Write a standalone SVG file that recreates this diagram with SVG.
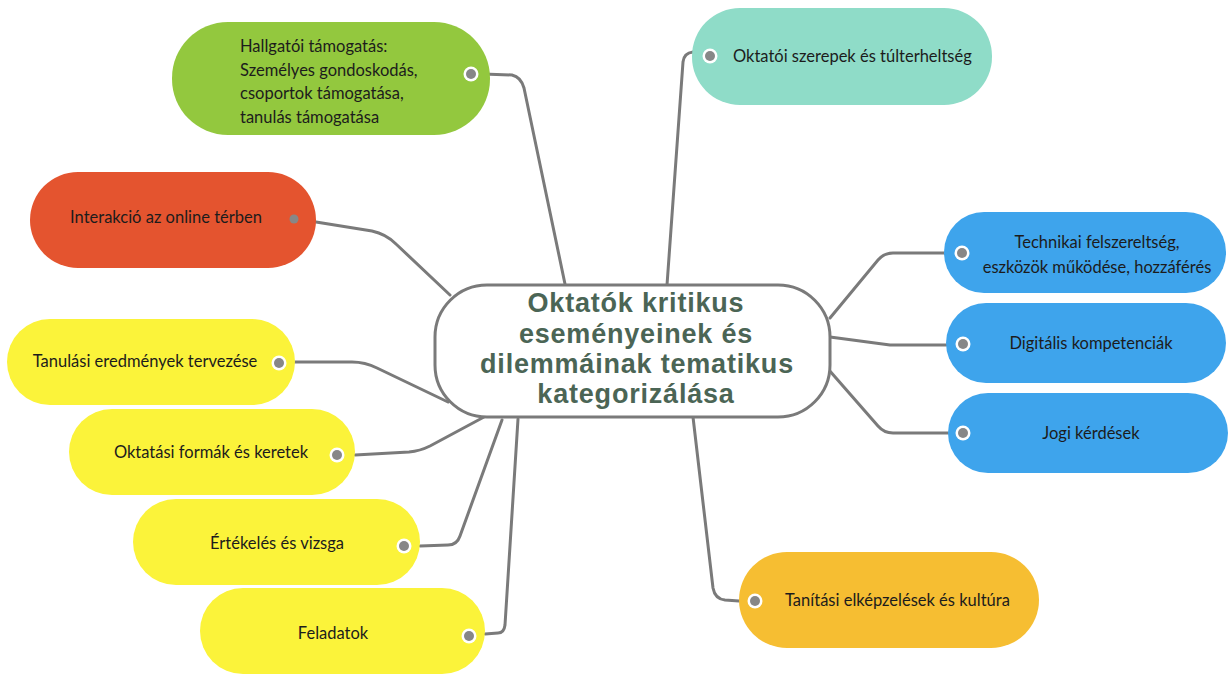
<svg xmlns="http://www.w3.org/2000/svg" width="1230" height="675" viewBox="0 0 1230 675">
<defs>
<style>
.t{font-family:Lato,"Liberation Sans",sans-serif;font-size:16.5px;fill:#1c1c1c}
.c{text-anchor:middle}
.ctr{font-family:"Liberation Sans",Arial,sans-serif;font-weight:bold;font-size:27px;letter-spacing:0.8px;fill:#4b6555;text-anchor:middle}
.ln{fill:none;stroke:#7a7a7a;stroke-width:3;stroke-linecap:round;stroke-linejoin:round}
.ring{fill:#ffffff}
.dot{fill:#878787}
</style>
</defs>
<rect width="1230" height="675" fill="#ffffff"/>
<g id="connectors">
<path class="ln" d="M483,74 L512,75 Q521,77 524,88 L565,284"/>
<path class="ln" d="M693,52 Q684,53 683,62 L667,285"/>
<path class="ln" d="M316,222 L372,231 Q386,234 396,244 L450,295"/>
<path class="ln" d="M944,253 L893,253 Q884,253 878,260 L830,318"/>
<path class="ln" d="M946,345 L890,345 L830,337"/>
<path class="ln" d="M948,433 L893,433 Q884,433 878,426 L829,370"/>
<path class="ln" d="M739,601 L725,600 Q715,599 713,588 L693,417"/>
<path class="ln" d="M295,362 L352,362 Q365,362 377,368 L448,402"/>
<path class="ln" d="M355,455 L409,452 Q420,451 430,446 L484,417"/>
<path class="ln" d="M420,546 L448,545 Q457,545 460,536 L502,420"/>
<path class="ln" d="M485,634 L498,633 Q504,633 505,625 L518,419"/>
</g>
<g id="center">
<rect x="435" y="285" width="395" height="132" rx="52" fill="#ffffff" stroke="#7a7a7a" stroke-width="3"/>
<text class="ctr" x="636" y="312">Oktatók kritikus</text>
<text class="ctr" x="636" y="343">eseményeinek és</text>
<text class="ctr" x="637" y="373">dilemmáinak tematikus</text>
<text class="ctr" x="636" y="403">kategorizálása</text>
</g>
<g id="hallgatoi">
<rect x="172" y="22" width="318" height="113" rx="56" fill="#93c83e"/>
<text class="t" x="240" y="52">Hallgatói támogatás:</text>
<text class="t" x="240" y="76">Személyes gondoskodás,</text>
<text class="t" x="240" y="99">csoportok támogatása,</text>
<text class="t" x="240" y="123">tanulás támogatása</text>
<circle class="ring" cx="471" cy="74" r="7.5"/><circle class="dot" cx="471" cy="74" r="5"/>
</g>
<g id="interakcio">
<rect x="30" y="172" width="286" height="96" rx="48" fill="#e4542f"/>
<text class="t c" x="166" y="223">Interakció az online térben</text>
<circle class="dot" cx="294" cy="219" r="4.5"/>
</g>
<g id="oktatoi">
<rect x="692" y="8" width="300" height="97" rx="48" fill="#8fdcc8"/>
<text class="t" x="733" y="62">Oktatói szerepek és túlterheltség</text>
<circle class="ring" cx="710" cy="56" r="7.5"/><circle class="dot" cx="710" cy="56" r="5"/>
</g>
<g id="technikai">
<rect x="944" y="212" width="282" height="81" rx="40" fill="#3ea4ec"/>
<text class="t c" x="1097" y="248">Technikai felszereltség,</text>
<text class="t c" x="1097" y="273">eszközök működése, hozzáférés</text>
<circle class="ring" cx="962" cy="253" r="7.5"/><circle class="dot" cx="962" cy="253" r="5"/>
</g>
<g id="digitalis">
<rect x="946" y="303" width="280" height="80" rx="40" fill="#3ea4ec"/>
<text class="t c" x="1091" y="349">Digitális kompetenciák</text>
<circle class="ring" cx="963" cy="344" r="7.5"/><circle class="dot" cx="963" cy="344" r="5"/>
</g>
<g id="jogi">
<rect x="948" y="393" width="280" height="80" rx="40" fill="#3ea4ec"/>
<text class="t c" x="1091" y="439">Jogi kérdések</text>
<circle class="ring" cx="963" cy="433" r="7.5"/><circle class="dot" cx="963" cy="433" r="5"/>
</g>
<g id="tanitasi">
<rect x="739" y="552" width="300" height="96" rx="48" fill="#f6be32"/>
<text class="t" x="785" y="606">Tanítási elképzelések és kultúra</text>
<circle class="ring" cx="755" cy="601" r="7.5"/><circle class="dot" cx="755" cy="601" r="5"/>
</g>
<g id="tanulasi">
<rect x="7" y="319" width="288" height="86" rx="43" fill="#fbf33a"/>
<text class="t c" x="145" y="367">Tanulási eredmények tervezése</text>
<circle class="ring" cx="279" cy="363" r="7.5"/><circle class="dot" cx="279" cy="363" r="5"/>
</g>
<g id="oktatasi">
<rect x="69" y="409" width="286" height="86" rx="43" fill="#fbf33a"/>
<text class="t c" x="211" y="458">Oktatási formák és keretek</text>
<circle class="ring" cx="337" cy="455" r="7.5"/><circle class="dot" cx="337" cy="455" r="5"/>
</g>
<g id="ertekeles">
<rect x="133" y="499" width="287" height="86" rx="43" fill="#fbf33a"/>
<text class="t c" x="277" y="549">Értékelés és vizsga</text>
<circle class="ring" cx="404" cy="546" r="7.5"/><circle class="dot" cx="404" cy="546" r="5"/>
</g>
<g id="feladatok">
<rect x="200" y="588" width="285" height="86" rx="43" fill="#fbf33a"/>
<text class="t c" x="333" y="639">Feladatok</text>
<circle class="ring" cx="469" cy="636" r="7.5"/><circle class="dot" cx="469" cy="636" r="5"/>
</g>
</svg>
